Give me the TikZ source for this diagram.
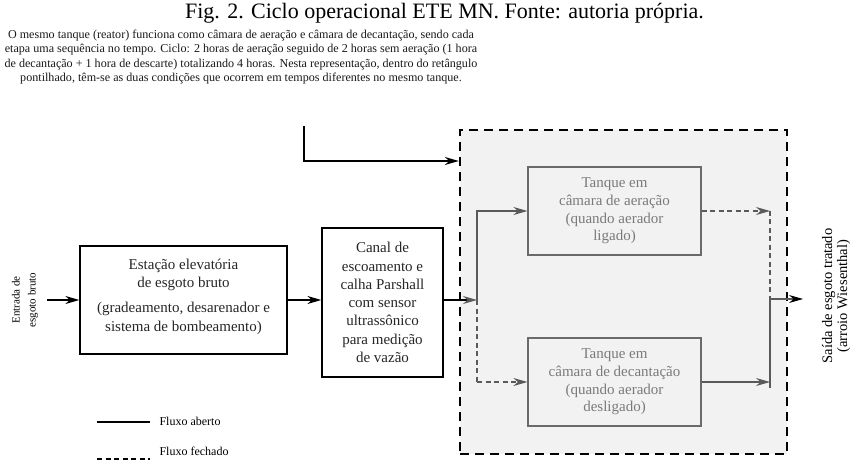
\documentclass[tikz,border=0pt]{standalone}
\usepackage{fontspec}
\setmainfont{Liberation Serif}
\usetikzlibrary{arrows.meta}

\definecolor{tankfill}{HTML}{F2F2F2}
\definecolor{grayborder}{HTML}{6A6A6A}
\definecolor{graytext}{HTML}{7A7A7A}
\definecolor{grayline}{HTML}{5A5A5A}

\begin{document}
\begin{tikzpicture}[x=1pt,y=-1pt,
  blackbox/.style={draw=black, line width=1.3pt, align=center, inner sep=0pt,
    font=\fontsize{15}{18.3}\selectfont, text=black!85},
  tankbox/.style={draw=grayborder, line width=1.2pt, align=center, inner sep=0pt,
    font=\fontsize{15}{17.8}\selectfont, text=graytext},
  tip/.style={-{Stealth[length=14pt,width=8pt]}},
  flow/.style={line width=1.4pt, tip},
  grayflow/.style={line width=1.1pt, draw=grayline, tip},
  grayopen/.style={line width=1.1pt, draw=grayline},
  grayclosed/.style={line width=1.1pt, draw=grayline, dash pattern=on 5pt off 3.5pt},
  sidelabel/.style={rotate=90, align=center},
]
\useasboundingbox (0,0) rectangle (851,462);

% title and explanation
\node[font=\fontsize{22}{24}\selectfont] (title) at (444.5,13) {Fig. 2. Ciclo operacional ETE MN. Fonte: autoria própria.};
\node[align=center, font=\fontsize{12.1}{14.4}\selectfont, text=black!90] (expl) at (241,57)
 {O mesmo tanque (reator) funciona como câmara de aeração e câmara de decantação, sendo cada\\
  etapa uma sequência no tempo. Ciclo: 2 horas de aeração seguido de 2 horas sem aeração (1 hora\\
  de decantação + 1 hora de descarte) totalizando 4 horas. Nesta representação, dentro do retângulo\\
  pontilhado, têm-se as duas condições que ocorrem em tempos diferentes no mesmo tanque.};

% dashed tank region
\node[draw=black, fill=tankfill, line width=2.4pt, dash pattern=on 9pt off 6pt,
      minimum width=327pt, minimum height=324pt, inner sep=0pt] (tank) at (623.5,292) {};

% main boxes
\node[blackbox, minimum width=207pt, minimum height=108pt, text depth=10pt] (box1) at (183.5,300)
 {Estação elevatória\\de esgoto bruto\\[7pt](gradeamento, desarenador e\\sistema de bombeamento)};
\node[blackbox, minimum width=121pt, minimum height=149pt] (box2) at (382.5,302.5)
 {Canal de\\escoamento e\\calha Parshall\\com sensor\\ultrassônico\\para medição\\de vazão};
\node[tankbox, minimum width=173pt, minimum height=88pt] (box3) at (614.5,211)
 {Tanque em\\câmara de aeração\\(quando aerador\\ligado)};
\node[tankbox, minimum width=173pt, minimum height=88pt] (box4) at (614.5,382)
 {Tanque em\\câmara de decantação\\(quando aerador\\desligado)};

% side labels
\node[sidelabel, font=\fontsize{11}{16}\selectfont] (inlabel) at (25,300) {Entrada de\\esgoto bruto};
\node[sidelabel, font=\fontsize{14.5}{15}\selectfont] (outlabel) at (836,296) {Saída de esgoto tratado\\(arroio Wiesenthal)};

% coordinates
\coordinate (inpt) at (47,300);
\coordinate (feedtop) at (304,126);
\coordinate (feedcorner) at (304,161);
\coordinate (split) at (477,300);
\coordinate (merge) at (770,299);
\coordinate (outpt) at (803,299);

% connectors
\draw[flow] (inpt) -- (box1.west);
\draw[flow] (box1.east) -- (box2.west |- box1.east);
\draw[flow] (feedtop) -- (feedcorner) -- (feedcorner -| tank.west);
\draw[line width=1.4pt, -{Stealth[length=14pt,width=8pt,color=grayline]}] (box2.east |- split) -- (split);
\draw[grayflow] (split) |- (box3.west);
\draw[grayclosed] (split) -- (split |- box4.west);
\draw[grayclosed, -{Stealth[length=14pt,width=8pt,color=grayline,fill=grayline]}] (split |- box4.west) -- (box4.west);
\draw[grayclosed, -{Stealth[length=14pt,width=8pt,color=grayline,fill=grayline]}] (box3.east) -- (box3.east -| merge);
\draw[grayclosed] (box3.east -| merge) -- ([yshift=-7pt]merge);
\draw[grayflow] (box4.east) -- (box4.east -| merge);
\draw[grayopen] ([yshift=-6pt]box4.east -| merge) -- (merge);
\draw[grayopen, -{Stealth[length=14pt,width=8pt,color=black]}] (merge) -- (outpt);

% legend
\coordinate (legA1) at (97,422);
\coordinate (legA2) at (150,422);
\coordinate (legB1) at (97,459);
\coordinate (legB2) at (150,459);
\draw[line width=1.4pt] (legA1) -- (legA2);
\draw[line width=1.4pt, dash pattern=on 5pt off 3.5pt] (legB1) -- (legB2);
\node[anchor=west, font=\fontsize{12}{14}\selectfont] (legtextA) at (156,421) {Fluxo aberto};
\node[anchor=west, font=\fontsize{12}{14}\selectfont] (legtextB) at (156,451) {Fluxo fechado};
\end{tikzpicture}
\end{document}
